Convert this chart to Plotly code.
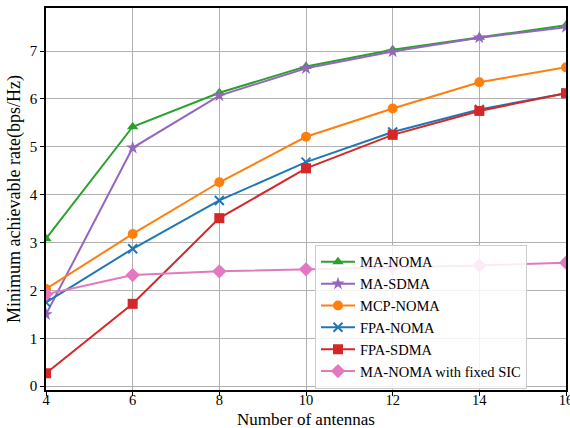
import plotly.graph_objects as go

antennas = [4, 6, 8, 10, 12, 14, 16]
ma_noma = [3.08, 5.42, 6.13, 6.68, 7.03, 7.29, 7.54]
ma_sdma = [1.50, 4.98, 6.07, 6.64, 6.99, 7.28, 7.50]
mcp_noma = [2.03, 3.18, 4.26, 5.21, 5.80, 6.35, 6.66]
fpa_noma = [1.75, 2.87, 3.88, 4.68, 5.31, 5.78, 6.12]
fpa_sdma = [0.27, 1.72, 3.51, 4.55, 5.25, 5.75, 6.12]
ma_noma_fixed = [1.92, 2.32, 2.40, 2.44, 2.49, 2.52, 2.58]

series = [
    ("MA-NOMA", ma_noma, "#2ca02c", "triangle-up", 10),
    ("MA-SDMA", ma_sdma, "#9467bd", "star", 10),
    ("MCP-NOMA", mcp_noma, "#ff7f0e", "circle", 10),
    ("FPA-NOMA", fpa_noma, "#1f77b4", "x-thin-open", 9),
    ("FPA-SDMA", fpa_sdma, "#d62728", "square", 10),
    ("MA-NOMA with fixed SIC", ma_noma_fixed, "#e377c2", "diamond", 11),
]

fig = go.Figure()
for name, vals, color, sym, size in series:
    fig.add_trace(go.Scatter(
        x=antennas, y=vals, name=name, mode="lines+markers",
        line=dict(color=color, width=2),
        marker=dict(symbol=sym, size=size, color=color,
                    line=dict(color=color, width=2 if "x" in sym else 0)),
    ))

font = "Liberation Serif, DejaVu Serif, serif"
fig.update_layout(
    width=570, height=428,
    margin=dict(l=46, r=4, t=8, b=38),
    plot_bgcolor="white", paper_bgcolor="white",
    font=dict(family=font, size=15, color="black"),
    showlegend=True,
    legend=dict(
        x=0.925, y=0.003, xanchor="right", yanchor="bottom",
        bgcolor="rgba(255,255,255,0.85)", bordercolor="#cccccc", borderwidth=1,
        font=dict(family=font, size=14.5), itemwidth=34, tracegroupgap=0,
    ),
    xaxis=dict(
        automargin=False,
        range=[4, 16], tickvals=[4, 6, 8, 10, 12, 14, 16],
        ticklabeloverflow="allow", ticklabelstandoff=-8,
        showgrid=True, gridcolor="#b0b0b0", gridwidth=1,
        showline=True, linecolor="black", linewidth=1.5, mirror=True,
        ticks="outside", ticklen=4, tickcolor="black", tickfont=dict(size=14.5),
        zeroline=False,
    ),
    yaxis=dict(
        title=dict(text="Minimum achievable rate(bps/Hz)", font=dict(size=18), standoff=4),
        automargin=False,
        range=[-0.08, 7.9], tickvals=[0, 1, 2, 3, 4, 5, 6, 7],
        ticklabeloverflow="allow",
        showgrid=True, gridcolor="#b0b0b0", gridwidth=1,
        showline=True, linecolor="black", linewidth=1.5, mirror=True,
        ticks="outside", ticklen=4, tickcolor="black", tickfont=dict(size=15),
        zeroline=False,
    ),
    annotations=[dict(
        text="Number of antennas", xref="paper", yref="paper",
        x=0.5, y=-29 / 382, xanchor="center", yanchor="middle",
        showarrow=False, font=dict(family=font, size=17),
    )],
)

fig.write_html("out.html")
